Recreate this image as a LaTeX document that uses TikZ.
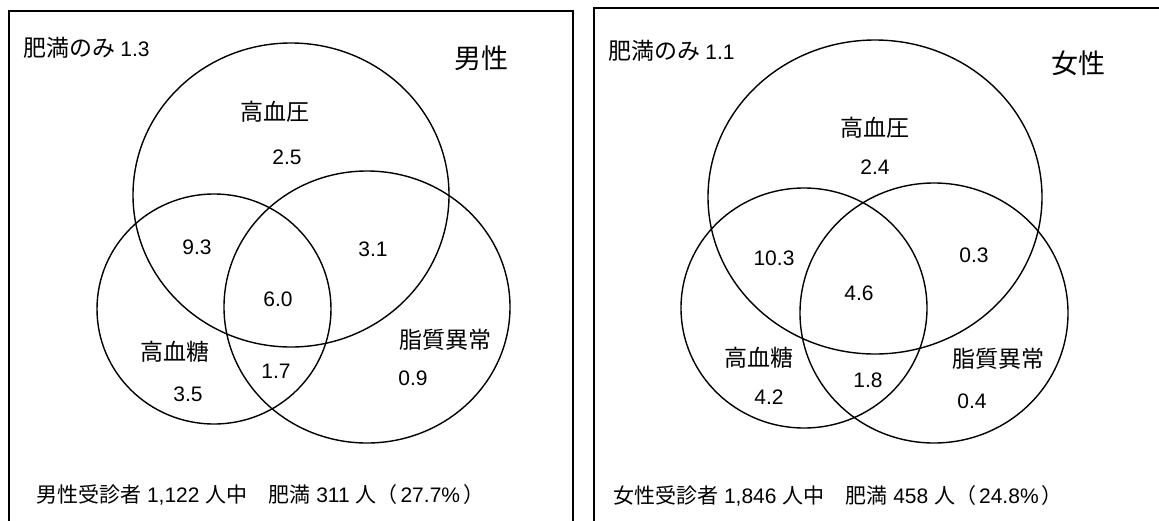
\documentclass[tikz,border=0pt]{standalone}
\usepackage{fontspec}
\setmainfont{Liberation Sans}
\newfontfamily\jp{Noto Sans CJK JP}

\begin{document}
\begin{tikzpicture}[x=1pt,y=-1pt,
  jlabel/.style={font=\jp\fontsize{23}{27}\selectfont, inner sep=0pt},
  num/.style={font=\fontsize{21}{25}\selectfont, inner sep=0pt},
  sex/.style={font=\jp\fontsize{27}{31}\selectfont, inner sep=0pt},
  foot/.style={font=\fontsize{21}{25}\selectfont, inner sep=0pt, anchor=west},
  venn/.style={line width=1.4pt},
  panel/.style={line width=1.7pt}]
\useasboundingbox (0,0) rectangle (1159,520);
\clip (0,0) rectangle (1159,520);
% panels
\draw[panel] (9,11) rectangle (573,540);
\draw[panel] (594,8) rectangle (1180,540);

% Men
\draw[venn] (291,195) ellipse [x radius=158, y radius=152];
\draw[venn] (214,309) ellipse [x radius=117, y radius=115];
\draw[venn] (367,307) ellipse [x radius=143, y radius=136];
\node[jlabel, anchor=west] (monly) at (23,48) {肥満のみ {\fontsize{21}{25}\rmfamily 1.3}};
\node[sex] (mtitle) at (481,58) {男性};
\node[jlabel] (mhbp) at (275,112) {高血圧};
\node[num] (mhbpv) at (287,157) {2.5};
\node[num] (mab) at (197,247) {9.3};
\node[num] (mac) at (373,249) {3.1};
\node[num] (mabc) at (278,299) {6.0};
\node[jlabel] (mdm) at (175,352) {高血糖};
\node[num] (mdmv) at (188,394) {3.5};
\node[num] (mbc) at (276,371) {1.7};
\node[jlabel] (mdl) at (445,340) {脂質異常};
\node[num] (mdlv) at (413,378) {0.9};
\node[foot] (mfoot) at (36,495) {{\jp 男性受診者} 1,122 {\jp 人中　肥満} 311 {\jp 人（}\hspace{3pt}27.7\%\hspace{3pt}{\jp ）}};

% Women
\draw[venn] (875,197) ellipse [x radius=167, y radius=157];
\draw[venn] (804,308) ellipse [x radius=123, y radius=120];
\draw[venn] (934,313) ellipse [x radius=134, y radius=130];
\node[jlabel, anchor=west] (wonly) at (608,51) {肥満のみ {\fontsize{21}{25}\rmfamily 1.1}};
\node[sex] (wtitle) at (1078,63) {女性};
\node[jlabel] (whbp) at (875,128) {高血圧};
\node[num] (whbpv) at (875,167) {2.4};
\node[num] (wab) at (774,258) {10.3};
\node[num] (wac) at (974,255) {0.3};
\node[num] (wabc) at (859,293) {4.6};
\node[jlabel] (wdm) at (759,358) {高血糖};
\node[num] (wdmv) at (769,397) {4.2};
\node[num] (wbc) at (868,380) {1.8};
\node[jlabel] (wdl) at (998,359) {脂質異常};
\node[num] (wdlv) at (972,401) {0.4};
\node[foot] (wfoot) at (613,496) {{\jp 女性受診者} 1,846 {\jp 人中　肥満} 458 {\jp 人（}\hspace{3pt}24.8\%\hspace{3pt}{\jp ）}};
\end{tikzpicture}
\end{document}
